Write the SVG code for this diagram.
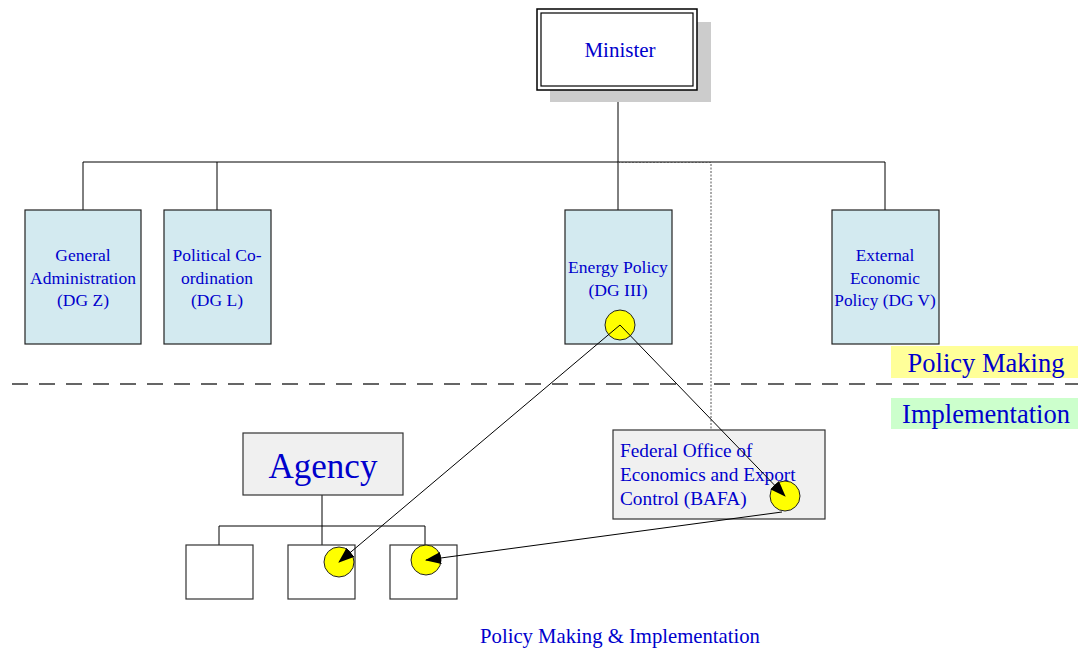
<svg xmlns="http://www.w3.org/2000/svg" width="1078" height="650" viewBox="0 0 1078 650">
<defs>
<marker id="ah" markerWidth="16" markerHeight="12" refX="15" refY="6" orient="auto" markerUnits="userSpaceOnUse">
<path d="M0,0 L16,6 L0,12 Z" fill="#000"/>
</marker>
<style>
.t{font-family:"Liberation Serif","Times New Roman",serif;fill:#0000cc;text-anchor:middle}
.dg{fill:#d3eaf0;stroke:#222;stroke-width:1.2}
.gr{fill:#f0f0f0;stroke:#333;stroke-width:1.2}
.wb{fill:#fff;stroke:#333;stroke-width:1.2}
.ln{stroke:#000;stroke-width:1;fill:none}
.dot{fill:#ffff00;stroke:#222;stroke-width:1}
.arr{stroke:#000;stroke-width:1;fill:none;marker-end:url(#ah)}
</style>
</defs>
<rect width="1078" height="650" fill="#fff"/>

<g id="connectors">
<line class="ln" x1="618" y1="90" x2="618" y2="162"/>
<line class="ln" x1="83" y1="162" x2="885" y2="162"/>
<line class="ln" x1="83" y1="162" x2="83" y2="210"/>
<line class="ln" x1="217" y1="162" x2="217" y2="210"/>
<line class="ln" x1="618" y1="162" x2="618" y2="210"/>
<line class="ln" x1="885" y1="162" x2="885" y2="210"/>
<path d="M618,162.5 H711 V430" stroke="#555" stroke-width="1" fill="none" stroke-dasharray="2,1.5"/>
<line x1="12" y1="384" x2="1078" y2="384" stroke="#333" stroke-width="1.3" stroke-dasharray="16,11"/>
<line class="ln" x1="322" y1="495" x2="322" y2="545"/>
<line class="ln" x1="219" y1="526" x2="425" y2="526"/>
<line class="ln" x1="219" y1="526" x2="219" y2="545"/>
<line class="ln" x1="425" y1="526" x2="425" y2="545"/>
</g>

<g id="minister">
<rect x="550" y="22" width="161" height="80" fill="#cccccc"/>
<rect x="537" y="9" width="160" height="81" fill="#fff" stroke="#000" stroke-width="1.5"/>
<rect x="541" y="13" width="152" height="73" fill="none" stroke="#000" stroke-width="1.2"/>
<text class="t" x="620" y="57" font-size="21">Minister</text>
</g>

<g id="dgz">
<rect class="dg" x="25" y="210" width="116" height="134"/>
<text class="t" x="83" y="261" font-size="17.5">General</text>
<text class="t" x="83" y="284" font-size="17.5">Administration</text>
<text class="t" x="83" y="306" font-size="17.5">(DG Z)</text>
</g>

<g id="dgl">
<rect class="dg" x="164" y="210" width="107" height="134"/>
<text class="t" x="217" y="261" font-size="17.5">Political Co-</text>
<text class="t" x="217" y="284" font-size="17.5">ordination</text>
<text class="t" x="217" y="306" font-size="17.5">(DG L)</text>
</g>

<g id="dgiii">
<rect class="dg" x="565" y="210" width="107" height="134"/>
<text class="t" x="618" y="273" font-size="17.6">Energy Policy</text>
<text class="t" x="618" y="296" font-size="17.6">(DG III)</text>
<circle class="dot" cx="620" cy="325" r="15"/>
</g>

<g id="dgv">
<rect class="dg" x="832" y="210" width="107" height="134"/>
<text class="t" x="885" y="261" font-size="17.3">External</text>
<text class="t" x="885" y="284" font-size="17.3">Economic</text>
<text class="t" x="885" y="306" font-size="17.3">Policy (DG V)</text>
</g>

<g id="policy-making">
<rect x="891" y="346" width="187" height="32" fill="#ffff99"/>
<text class="t" x="986" y="372" font-size="26.5">Policy Making</text>
</g>

<g id="implementation">
<rect x="891" y="398" width="187" height="31" fill="#ccffcc"/>
<text class="t" x="986" y="423" font-size="26.5">Implementation</text>
</g>

<g id="agency">
<rect class="gr" x="243" y="433" width="160" height="62"/>
<text class="t" x="323" y="478" font-size="35">Agency</text>
</g>

<g id="unit1">
<rect class="wb" x="186" y="545" width="67" height="54"/>
</g>
<g id="unit2">
<rect class="wb" x="288" y="545" width="67" height="54"/>
<circle class="dot" cx="339" cy="562" r="15"/>
</g>
<g id="unit3">
<rect class="wb" x="390" y="545" width="67" height="54"/>
<circle class="dot" cx="426" cy="560" r="15"/>
</g>

<g id="bafa">
<rect class="gr" x="613" y="430" width="212" height="89"/>
<text class="t" x="620" y="457" font-size="19.3" style="text-anchor:start">Federal Office of</text>
<text class="t" x="620" y="481" font-size="19.3" style="text-anchor:start">Economics and Export</text>
<text class="t" x="620" y="505" font-size="19.3" style="text-anchor:start">Control (BAFA)</text>
<circle class="dot" cx="785" cy="496" r="15"/>
</g>

<g id="arrows">
<line class="arr" x1="620" y1="325" x2="339" y2="562"/>
<line class="arr" x1="620" y1="325" x2="785" y2="496"/>
<line class="arr" x1="782" y1="512" x2="426" y2="560"/>
</g>

<g id="title">
<text class="t" x="620" y="643" font-size="20.7">Policy Making &amp; Implementation</text>
</g>
</svg>
